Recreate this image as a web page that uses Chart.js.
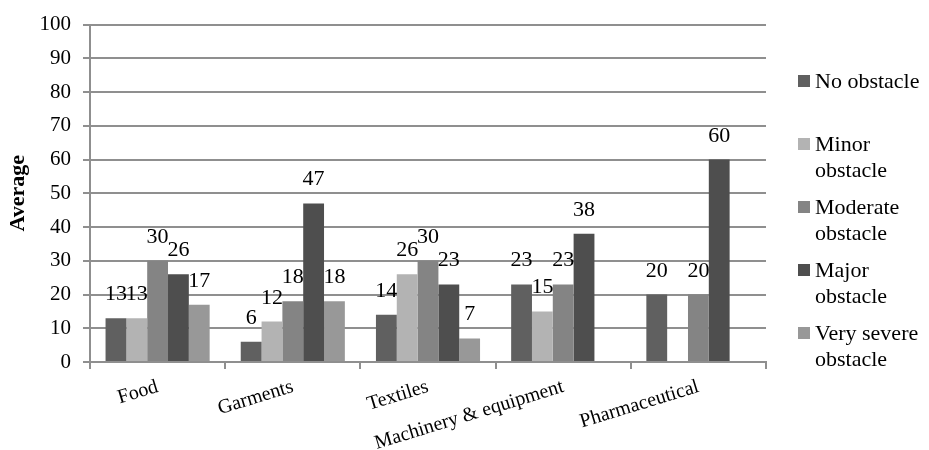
<!DOCTYPE html>
<html>
<head>
<meta charset="utf-8">
<title>Average obstacle rating by sector</title>
<script src="https://cdn.jsdelivr.net/npm/chart.js"></script>
<style>
  html, body { margin: 0; padding: 0; background: #fff; }
  #wrap { position: relative; width: 929px; height: 450px; }
</style>
</head>
<body>
<div id="wrap"><canvas id="chart" width="929" height="450"></canvas></div>
<script>
// Sectors along the x axis
const sectors = ['Food', 'Garments', 'Textiles', 'Machinery & equipment', 'Pharmaceutical'];

// One array per obstacle level (null = no bar)
const seriesNames = ['No obstacle', 'Minor obstacle', 'Moderate obstacle', 'Major obstacle', 'Very severe obstacle'];
const noObstacle = [13, 6, 14, 23, 20];
const minorObstacle = [13, 12, 26, 15, null];
const moderateObstacle = [30, 18, 30, 23, 20];
const majorObstacle = [26, 47, 23, 38, 60];
const verySevereObstacle = [17, 18, 7, null, null];
const seriesColors = ['#606060', '#b3b3b3', '#848484', '#4e4e4e', '#989898'];

// y axis range
const yMin = 0;
const yMax = 100;
const yStep = 10;

const FONT = "'Liberation Serif', 'DejaVu Serif', serif";
const GRID = '#8f8f8f';

Chart.defaults.font.family = FONT;
Chart.defaults.color = '#000';

const allSeries = [noObstacle, minorObstacle, moderateObstacle, majorObstacle, verySevereObstacle];

// value printed above each bar
const barValues = {
  id: 'barValues',
  afterDatasetsDraw(chart) {
    const ctx = chart.ctx;
    ctx.save();
    ctx.font = '22px ' + FONT;
    ctx.fillStyle = '#000';
    ctx.textAlign = 'center';
    ctx.textBaseline = 'alphabetic';
    chart.data.datasets.forEach((ds, i) => {
      chart.getDatasetMeta(i).data.forEach((bar, j) => {
        const v = ds.data[j];
        if (v == null) return;
        ctx.fillText(String(v), bar.x, bar.y - 18);
      });
    });
    ctx.restore();
  }
};

// legend on the right, names wrapped to the available width
const sideLegend = {
  id: 'sideLegend',
  afterDraw(chart) {
    const ctx = chart.ctx;
    const boxX = 798, textX = 815, top = 75, step = 63, box = 12, lineH = 26;
    const maxW = chart.width - textX - 4;
    ctx.save();
    ctx.font = '22px ' + FONT;
    ctx.textBaseline = 'alphabetic';
    ctx.textAlign = 'left';
    chart.data.datasets.forEach((ds, i) => {
      const y = top + i * step;
      ctx.fillStyle = ds.backgroundColor;
      ctx.fillRect(boxX, y, box, box);
      const lines = [];
      let cur = '';
      ds.label.split(' ').forEach(w => {
        const test = cur ? cur + ' ' + w : w;
        if (cur && ctx.measureText(test).width > maxW) {
          lines.push(cur);
          cur = w;
        } else {
          cur = test;
        }
      });
      lines.push(cur);
      ctx.fillStyle = '#000';
      lines.forEach((ln, k) => ctx.fillText(ln, textX, y + box + 1 + k * lineH));
    });
    ctx.restore();
  }
};

new Chart(document.getElementById('chart'), {
  type: 'bar',
  data: {
    labels: sectors,
    datasets: seriesNames.map((name, i) => ({
      label: name,
      data: allSeries[i],
      backgroundColor: seriesColors[i],
      borderWidth: 0,
      categoryPercentage: 0.77,
      barPercentage: 1.0
    }))
  },
  options: {
    responsive: false,
    animation: false,
    devicePixelRatio: 1,
    layout: { padding: { top: 20, right: 163, left: 0, bottom: 0 } },
    plugins: {
      legend: { display: false },
      tooltip: { enabled: false }
    },
    scales: {
      x: {
        grid: { offset: true, drawOnChartArea: false, drawTicks: true, tickLength: 7, color: GRID, lineWidth: 2 },
        border: { color: GRID, width: 2 },
        ticks: { minRotation: 17, maxRotation: 17, autoSkip: false, font: { size: 20 }, padding: 6 },
        afterFit(scale) { scale.height = 88; }
      },
      y: {
        min: yMin,
        max: yMax,
        ticks: { stepSize: yStep, font: { size: 21 }, padding: 12 },
        grid: { color: GRID, lineWidth: 2, tickLength: 7 },
        border: { color: GRID, width: 2 },
        title: { display: true, text: 'Average', font: { size: 22, weight: 'bold' }, padding: { top: 5, bottom: 0 } },
        afterFit(scale) { scale.width = 90; }
      }
    }
  },
  plugins: [barValues, sideLegend]
});
</script>
</body>
</html>
